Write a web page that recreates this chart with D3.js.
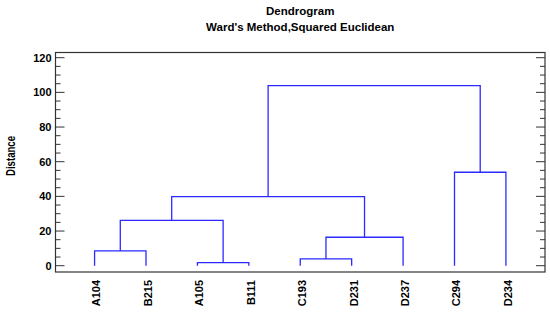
<!DOCTYPE html>
<html>
<head>
<meta charset="utf-8">
<script src="https://cdn.jsdelivr.net/npm/d3@7"></script>
<style>
  body { margin: 0; background: #fff; }
  text { font-family: "Liberation Sans", Arial, sans-serif; font-weight: bold; fill: #000; }
</style>
</head>
<body>
<svg id="chart" width="550" height="314"></svg>
<script>
// leaf order as drawn along the bottom
var leaves = ["A104", "B215", "A105", "B111", "C193", "D231", "D237", "C294", "D234"];

// merge steps: [left, right, distance]; "m1".."m8" refer to earlier merges (1-based)
var merges = [
  ["A104", "B215", 8.5],
  ["A105", "B111", 1.8],
  ["C193", "D231", 3.9],
  ["m3", "D237", 16.4],
  ["m1", "m2", 26.2],
  ["m5", "m4", 39.8],
  ["C294", "D234", 53.9],
  ["m6", "m7", 103.9]
];

var yTicks = [0, 20, 40, 60, 80, 100, 120];

var svg = d3.select("#chart");

// plot box (don't call it "top", that's window.top)
var box = {left: 55.5, right: 545, top: 52.5, bottom: 272};

var x = d3.scalePoint()
  .domain(leaves)
  .range([box.left, box.right])
  .padding(0.76);

var y = d3.scaleLinear()
  .domain([0, 120])
  .range([265.7, 57.7]);

// positions of leaves and merged clusters
var pos = {};
leaves.forEach(function(l) { pos[l] = {x: x(l), h: 0}; });

var blue = "#2b2bff";
var g = svg.append("g");

merges.forEach(function(m, i) {
  var a = pos[m[0]], b = pos[m[1]], h = m[2];
  //the u-shaped link
  g.append("path")
    .attr("fill", "none")
    .attr("stroke", blue)
    .attr("stroke-width", 1.3)
    .attr("d", d3.line()([
      [a.x, y(a.h)], [a.x, y(h)], [b.x, y(h)], [b.x, y(b.h)]
    ]));
  pos["m" + (i + 1)] = {x: (a.x + b.x) / 2, h: h};
});

// frame
svg.append("rect")
  .attr("x", box.left).attr("y", box.top)
  .attr("width", box.right - box.left).attr("height", box.bottom - box.top)
  .attr("fill", "none")
  .attr("stroke", "#333")
  .attr("stroke-width", 1.2);

// left and right ticks, pointing inward
var minor = d3.range(0, 121, 5);
[[box.left, 1], [box.right, -1]].forEach(function(side) {
  svg.append("g")
    .selectAll("line")
    .data(minor)
    .enter().append("line")
    .attr("x1", side[0])
    .attr("x2", function(d) { return side[0] + side[1] * (d % 20 == 0 ? 9 : 5); })
    .attr("y1", function(d) { return y(d); })
    .attr("y2", function(d) { return y(d); })
    .attr("stroke", "#333");
});

svg.append("g")
  .selectAll("text")
  .data(yTicks)
  .enter().append("text")
  .attr("x", box.left - 4)
  .attr("y", function(d) { return y(d); })
  .attr("dy", "0.35em")
  .attr("text-anchor", "end")
  .style("font-size", "11px")
  .text(function(d) { return d; });

// x labels
svg.append("g")
  .selectAll("text")
  .data(leaves)
  .enter().append("text")
  .attr("transform", function(d) { return "translate(" + (x(d) + 2) + ",280) rotate(-90)"; })
  .attr("dy", "0.35em")
  .attr("text-anchor", "end")
  .style("font-size", "11px")
  .text(function(d) { return d; });

// titles
var cx = (box.left + box.right) / 2;
svg.append("text").attr("x", cx).attr("y", 15)
  .attr("text-anchor", "middle").style("font-size", "11.5px").text("Dendrogram");
svg.append("text").attr("x", cx).attr("y", 31)
  .attr("text-anchor", "middle").style("font-size", "11.5px").text("Ward's Method,Squared Euclidean");

// y title is a bit narrower in the original
svg.append("text")
  .attr("transform", "translate(10.5,156) rotate(-90)")
  .attr("dy", "0.35em")
  .attr("text-anchor", "middle")
  .attr("textLength", 40)
  .attr("lengthAdjust", "spacingAndGlyphs")
  .style("font-size", "12.5px")
  .text("Distance");
</script>
</body>
</html>
